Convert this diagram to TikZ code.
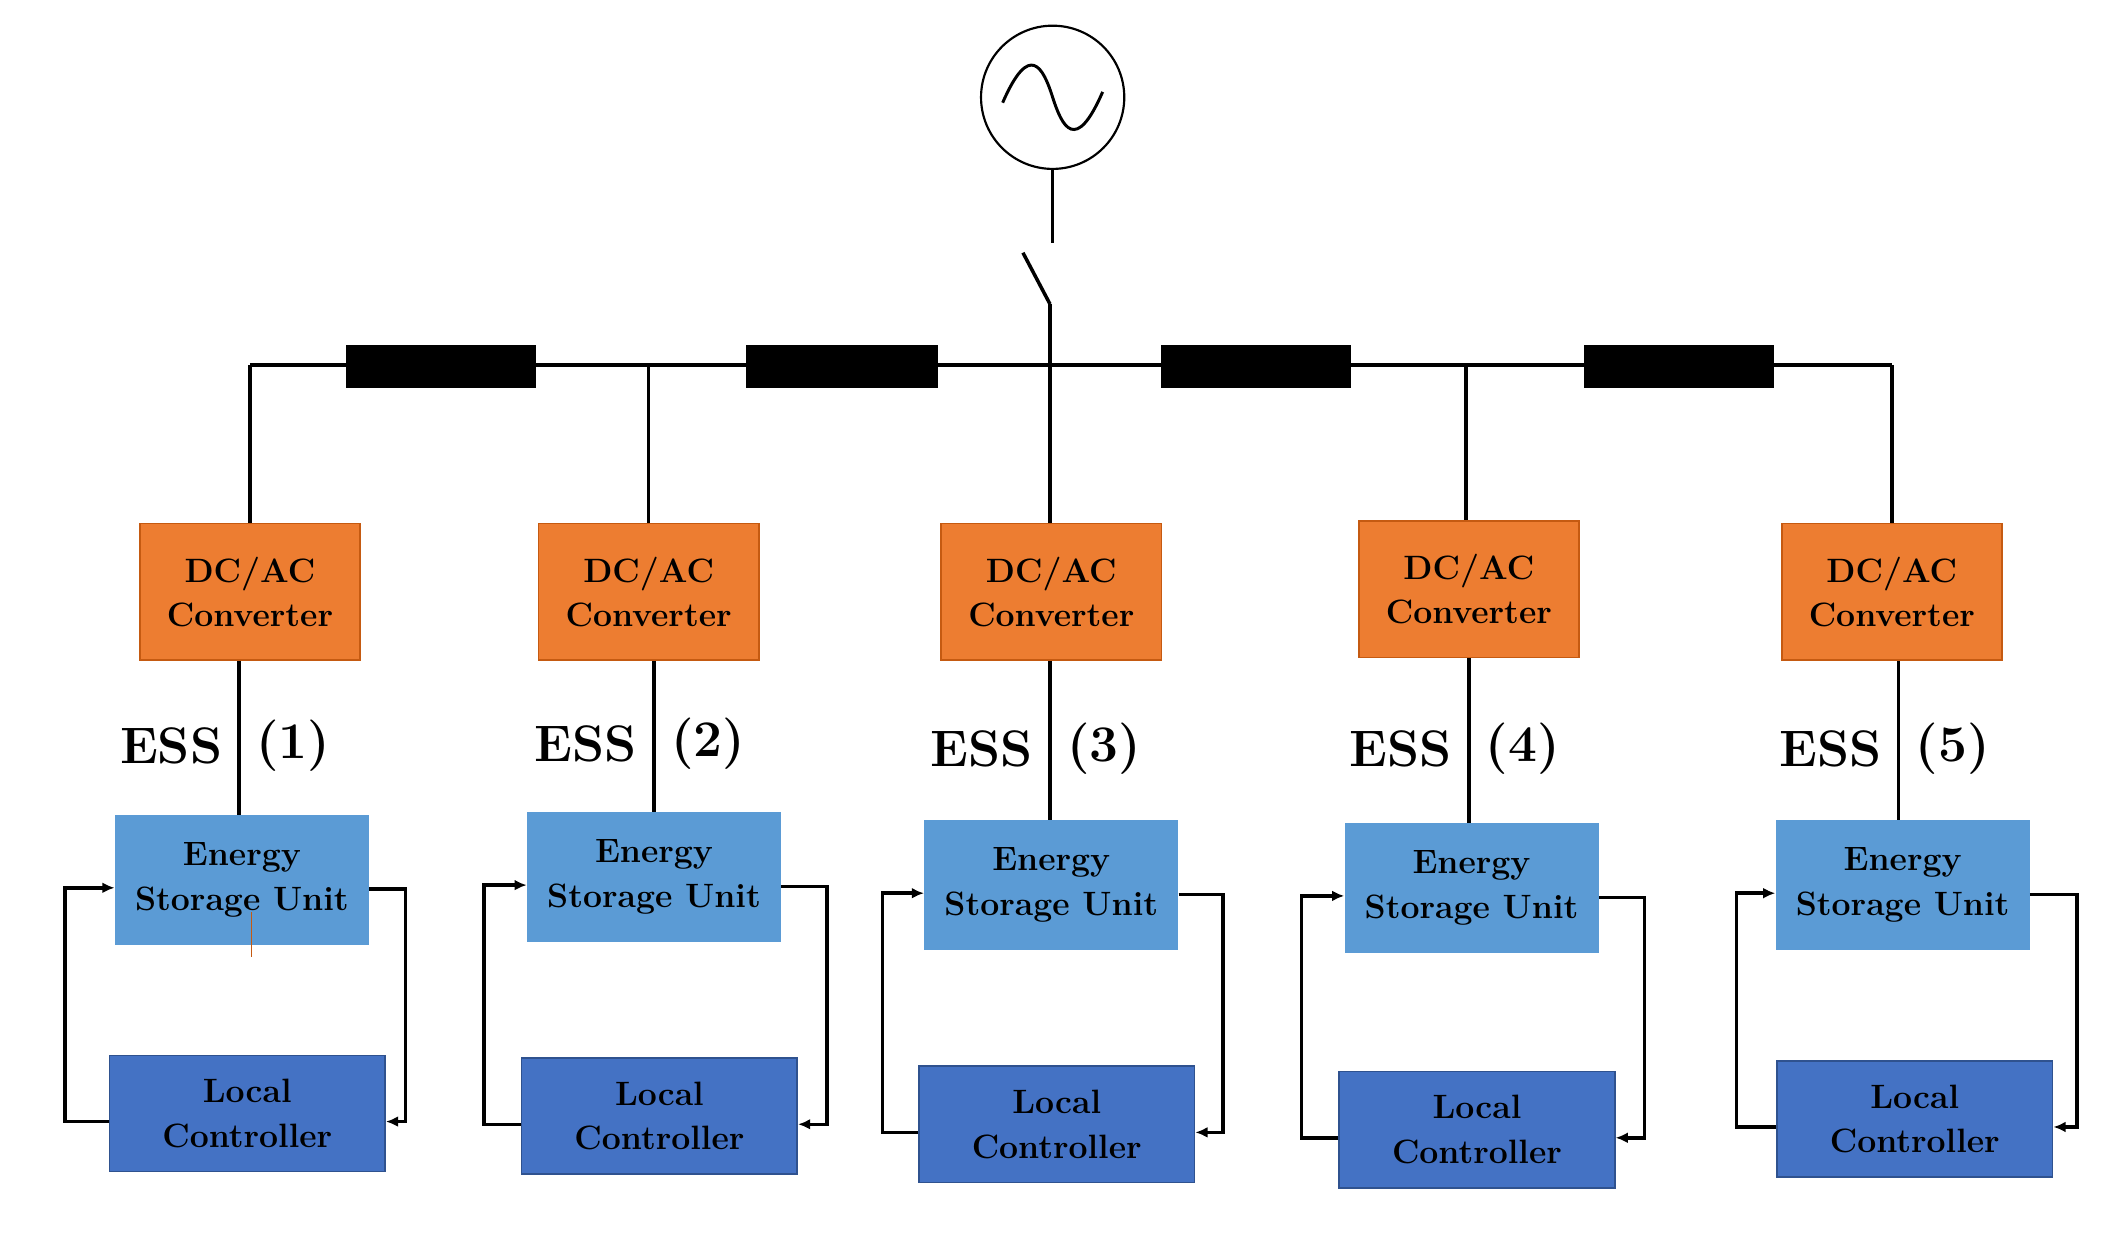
\documentclass[tikz,border=0pt]{standalone}
\usepackage{tikz}
\definecolor{colconv}{RGB}{237,125,49}
\definecolor{colconvb}{RGB}{197,90,17}
\definecolor{colesu}{RGB}{91,155,213}
\definecolor{collc}{RGB}{68,114,196}
\definecolor{collcb}{RGB}{47,82,143}
\usetikzlibrary{
	arrows.meta,
	positioning
}
\tikzset{
	>={Latex[length=9pt,width=8pt]},
	wire/.style={line width=2.6pt},
	fb/.style={->, line width=2.6pt},
	linebox/.style={fill=black},
	convnode/.style={draw=colconvb, line width=1.2pt, fill=colconv, minimum width=163pt, minimum height=101pt, align=center, font=\fontsize{25}{33}\selectfont\bfseries},
	esunode/.style={fill=colesu, minimum width=188pt, minimum height=96pt, align=center, font=\fontsize{25}{33}\selectfont\bfseries},
	lcnode/.style={draw=collcb, line width=1.2pt, fill=collc, minimum width=204pt, minimum height=86pt, align=center, font=\fontsize{25}{33}\selectfont\bfseries},
	esslabel/.style={font=\fontsize{38}{40}\selectfont\bfseries}
}
\begin{document}
\begin{tikzpicture}[x=1pt, y=-1pt]
	\useasboundingbox (0,0) rectangle (1560,918);

	% source and switch
	\node[circle, draw, line width=1.6pt, minimum size=106pt] (src) at (779,72) {};
	\draw[line width=2.2pt] (742,76) .. controls (762,30) and (772,50) .. (779,72)
		.. controls (786,94) and (796,114) .. (816,68);
	\coordinate (swtop) at (779,180);
	\coordinate (swa) at (757,187);
	\coordinate (swb) at (777,225);
	\draw[wire] (src) -- (swtop);
	\draw[wire] (swa) -- (swb);

	% bus
	\coordinate (busl) at (185,270);
	\coordinate (busr) at (1400,270);
	\draw[wire] (busl) -- (busr);
	\foreach \xa/\xb in {256/397, 552/694, 859/1000, 1172/1313}
		\fill[linebox] (\xa,255) rectangle (\xb,287);

	% columns
	\foreach \i/\cx/\cy/\ex/\sx/\sy/\lx/\ly/\rx/\lf in {
		1/185/438/177/179/651/183/824/300/48,
		2/480/438/484/484/649/488/826/612/358,
		3/778/438/777/778/655/782/832/905/653,
		4/1087/436/1087/1089/657/1093/836/1217/963,
		5/1400/438/1405/1408/655/1417/828/1537/1285}
	{
		\node[convnode] (conv\i) at (\cx,\cy) {DC/AC\\Converter};
		\node[esunode] (esu\i) at (\sx,\sy) {Energy\\Storage Unit};
		\node[lcnode] (lc\i) at (\lx,\ly) {Local\\Controller};
		\draw[wire] (conv\i.north -| \ex,270) -- (conv\i.north -| \ex,270);
		\draw[wire] (conv\i.south -| \ex,0) -- (esu\i.north -| \ex,0)
			node[pos=0.55, left=8pt, esslabel] {ESS}
			node[pos=0.55, right=8pt, esslabel] {(\i)};
		\draw[fb] ([yshift=-7pt]esu\i.east) -- (\rx,\sy+7) |- ([yshift=-6pt]lc\i.east);
		\draw[fb] ([yshift=-6pt]lc\i.west) -- (\lf,\ly+6) |- ([yshift=-6pt]esu\i.west);
	}

	% bus drops
	\draw[wire] (185,270) -- (conv1.north -| 185,0);
	\draw[wire] (480,270) -- (conv2.north -| 480,0);
	\draw[wire] (swb) -- (conv3.north -| 777,0);
	\draw[wire] (1085,270) -- (conv4.north -| 1085,0);
	\draw[wire] (busr) -- (conv5.north -| 1400,0);

	% small mark in first storage unit
	\coordinate (tka) at (186,675);
	\coordinate (tkb) at (186,708);
	\draw[colconvb, line width=1pt] (tka) -- (tkb);
\end{tikzpicture}
\end{document}
